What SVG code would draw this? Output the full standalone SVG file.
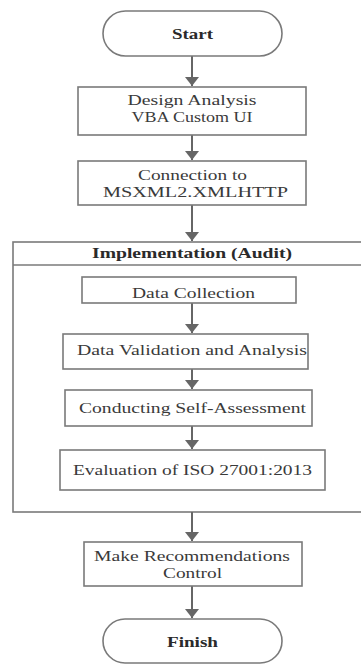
<svg xmlns="http://www.w3.org/2000/svg" width="361" height="664" viewBox="0 0 361 664" font-family="'Liberation Serif', serif">
<style>
.box{fill:#fff;stroke:#7a7a7a;stroke-width:1.6}
.t{font-family:'Liberation Serif',serif;font-size:14.5px;fill:#3a3a3a;text-anchor:middle}
.b{font-weight:bold;fill:#2a2a2a}
.c{stroke:#666;stroke-width:2;fill:none;marker-end:url(#ah)}
</style>
<defs>
<marker id="ah" viewBox="0 0 9 14" refX="9" refY="7" markerWidth="9" markerHeight="14" markerUnits="userSpaceOnUse" orient="auto">
<path d="M0,0 L9,7 L0,14 z" fill="#666"/>
</marker>
</defs>
<rect width="361" height="664" fill="#fff"/>
<g id="container">
<rect class="box" x="13" y="242" width="360" height="270"/>
<line x1="13" y1="265" x2="361" y2="265" stroke="#7a7a7a" stroke-width="1.6"/>
<text class="t b" x="192" y="258" font-size="15" textLength="200" lengthAdjust="spacingAndGlyphs">Implementation (Audit)</text>
</g>
<g id="connectors">
<line class="c" x1="192" y1="56" x2="192" y2="86"/>
<line class="c" x1="192" y1="135" x2="192" y2="160"/>
<line class="c" x1="192" y1="205" x2="192" y2="241"/>
<line class="c" x1="192" y1="303" x2="192" y2="333"/>
<line class="c" x1="192" y1="369" x2="192" y2="389"/>
<line class="c" x1="192" y1="426" x2="192" y2="449"/>
<line class="c" x1="192" y1="512" x2="192" y2="541"/>
<line class="c" x1="192" y1="586" x2="192" y2="618"/>
</g>
<g id="start">
<rect class="box" x="103" y="11" width="179" height="45" rx="22.5"/>
<text class="t b" x="192.5" y="39" font-size="15" textLength="41" lengthAdjust="spacingAndGlyphs">Start</text>
</g>
<g id="design">
<rect class="box" x="78" y="87" width="228" height="48"/>
<text class="t" x="192" y="105" textLength="129" lengthAdjust="spacingAndGlyphs">Design Analysis</text>
<text class="t" x="192" y="122" textLength="121" lengthAdjust="spacingAndGlyphs">VBA Custom UI</text>
</g>
<g id="connection">
<rect class="box" x="78" y="161" width="228" height="44"/>
<text class="t" x="192.5" y="180" textLength="109" lengthAdjust="spacingAndGlyphs">Connection to</text>
<text class="t" x="195.5" y="197" textLength="185" lengthAdjust="spacingAndGlyphs">MSXML2.XMLHTTP</text>
</g>
<g id="collection">
<rect class="box" x="82" y="277" width="214" height="26"/>
<text class="t" x="193.5" y="298" textLength="123" lengthAdjust="spacingAndGlyphs">Data Collection</text>
</g>
<g id="validation">
<rect class="box" x="63" y="334" width="245" height="35"/>
<text class="t" x="192" y="355" textLength="230" lengthAdjust="spacingAndGlyphs">Data Validation and Analysis</text>
</g>
<g id="selfassessment">
<rect class="box" x="65" y="390" width="247" height="36"/>
<text class="t" x="192.5" y="413" textLength="227" lengthAdjust="spacingAndGlyphs">Conducting Self-Assessment</text>
</g>
<g id="evaluation">
<rect class="box" x="60" y="450" width="265" height="40"/>
<text class="t" x="192.5" y="475" textLength="239" lengthAdjust="spacingAndGlyphs">Evaluation of ISO 27001:2013</text>
</g>
<g id="recommend">
<rect class="box" x="84" y="542" width="218" height="44"/>
<text class="t" x="192" y="561" textLength="196" lengthAdjust="spacingAndGlyphs">Make Recommendations</text>
<text class="t" x="192.5" y="578" textLength="59" lengthAdjust="spacingAndGlyphs">Control</text>
</g>
<g id="finish">
<rect class="box" x="103" y="619" width="179" height="44" rx="22"/>
<text class="t b" x="192.5" y="647" font-size="15" textLength="51" lengthAdjust="spacingAndGlyphs">Finish</text>
</g>
</svg>
